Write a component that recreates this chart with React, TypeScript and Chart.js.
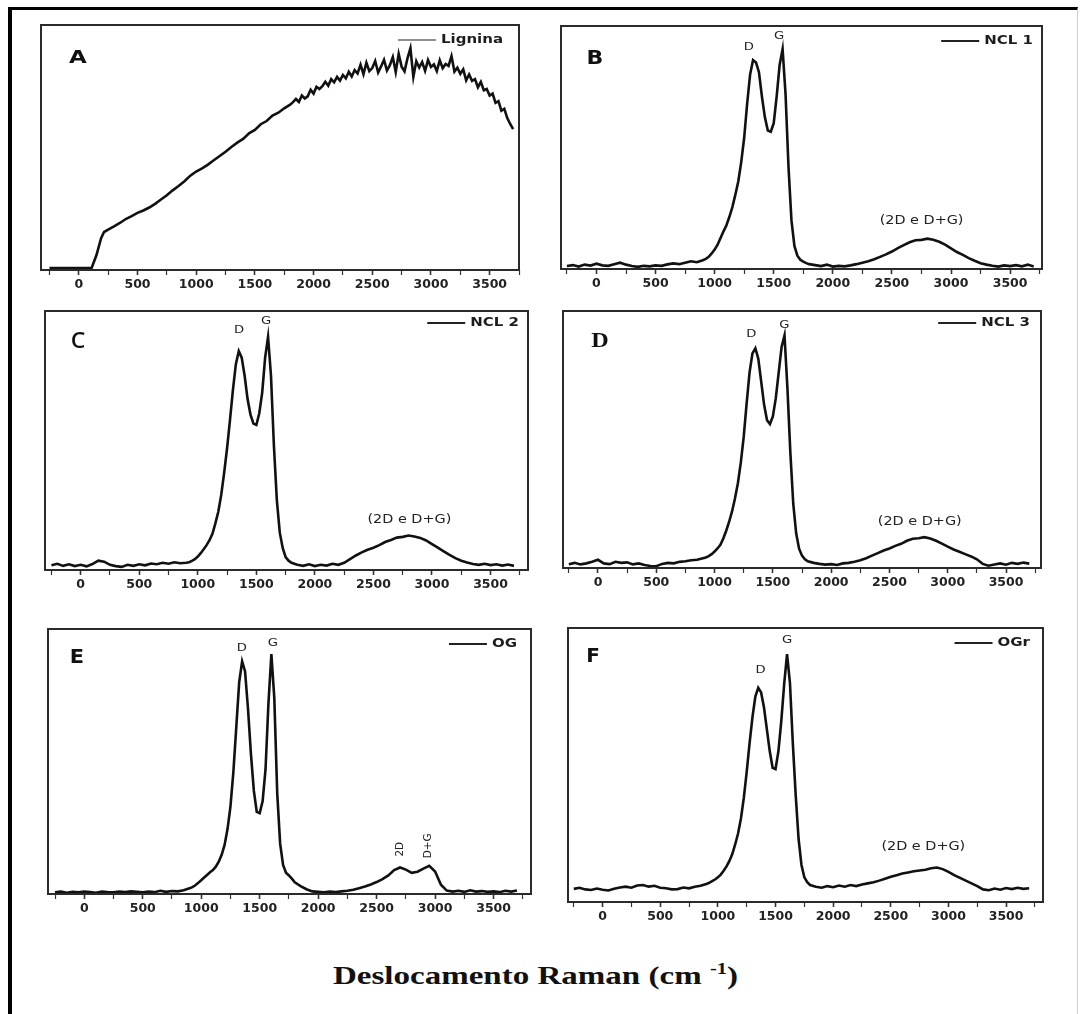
import React, { useEffect, useRef } from 'react';
import { Chart, registerables } from 'chart.js';

Chart.register(...registerables);

// ---------- DATA ----------
// Raman shift grid (cm-1) shared by panels B-F
const gridX = [
  -250, -200, -150, -100, -50, 0, 50, 100, 150, 200, 250, 300, 350, 400, 450, 500, 550, 600, 650, 700, 750, 800, 850, 900,
  925, 950, 975, 1000, 1025, 1050, 1075, 1100, 1125, 1150, 1175, 1200, 1225, 1250, 1275, 1300, 1325, 1350, 1375, 1400, 1425, 1450, 1475, 1500, 1525, 1550, 1575, 1600, 1625, 1650, 1675, 1700, 1725, 1750, 1775, 1800,
  1850, 1900, 1950, 2000, 2050, 2100, 2150, 2200, 2250, 2300, 2350, 2400, 2450, 2500, 2550, 2600, 2650, 2700, 2750, 2800, 2850, 2900, 2950, 3000, 3050, 3100, 3150, 3200, 3250, 3300, 3350, 3400, 3450, 3500, 3550, 3600, 3650, 3700,
];

// Panel A – Lignina (own grid)
const ligninaX = [
  -250, -150, -50, 50, 110, 150, 190, 215, 250, 300, 350, 400, 450, 500, 550, 600, 650, 700, 750, 800, 850, 900, 950, 1000,
  1050, 1100, 1150, 1200, 1250, 1300, 1350, 1400, 1450, 1500, 1550, 1600, 1650, 1700, 1750, 1800,
  1825, 1850, 1875, 1900, 1925, 1950, 1975, 2000,
  2025, 2050, 2075, 2100, 2125, 2150, 2175, 2200,
  2225, 2250, 2275, 2300, 2325, 2350, 2375, 2400,
  2425, 2450, 2475, 2500, 2525, 2550, 2575, 2600,
  2625, 2650, 2675, 2700, 2725, 2750, 2775, 2800,
  2825, 2850, 2875, 2900, 2925, 2950, 2975, 3000,
  3025, 3050, 3075, 3100, 3125, 3150, 3175, 3200,
  3225, 3250, 3275, 3300, 3325, 3350, 3375, 3400,
  3425, 3450, 3475, 3500, 3525, 3550, 3575, 3600,
  3625, 3650, 3675, 3700,
];
const ligninaY = [
  0.8, 0.8, 0.8, 0.8, 0.9, 6, 13, 15.5, 16.5, 17.8, 19.2, 20.8, 22.0, 23.3, 24.3, 25.5, 27.0, 28.8, 30.5, 32.5, 34.3, 36.2, 38.5, 40.2,
  41.5, 43.0, 44.8, 46.5, 48.3, 50.2, 52.0, 53.5, 55.8, 57.2, 59.5, 60.8, 63.0, 64.2, 66.0, 67.5,
  68.5, 69.8, 68.6, 71.2, 70.0, 70.9, 73.6, 72.0,
  74.8, 73.9, 75.0, 76.8, 75.2, 77.9, 76.6, 78.8,
  77.3, 79.6, 78.2, 80.9, 79.0, 81.6, 80.2, 83.8,
  79.9, 84.6, 81.2, 82.4, 85.3, 80.6, 83.1, 85.8,
  81.4, 83.6, 86.9, 80.8, 88.2, 83.0, 81.1, 86.4,
  90.5, 78.8, 85.2, 82.6, 84.9, 81.3, 85.7, 82.9,
  83.9, 81.2, 85.6, 82.4, 84.1, 83.3, 87.3, 81.0,
  82.6, 80.1, 81.9, 77.4, 79.8, 77.2, 77.9, 74.6,
  76.8, 73.4, 73.9, 71.2, 72.0, 68.2, 68.9, 65.0,
  65.8, 62.0, 59.6, 57.5,
];

// Panel B – NCL 1
const ncl1Y = [
  1.2, 1.6, 1.0, 1.8, 1.4, 2.2, 1.5, 1.3, 2.0, 2.6, 1.8, 1.2, 0.9, 1.3, 1.1, 1.5, 1.3, 1.9, 2.3, 2.0, 2.6, 3.2, 2.8, 3.6,
  4.2, 5.0, 6.4, 8.0, 10.0, 12.8, 15.5, 18.0, 21.5, 25.5, 30.5, 36.0, 44.0, 54.0, 68.0, 80.0, 86.0, 85.0, 81.0, 71.0, 62.5, 57.0, 56.5, 60.0, 71.0, 84.0, 90.5, 72.0, 42.0, 20.0, 9.5, 5.5, 3.8, 3.0, 2.4, 2.0,
  1.6, 1.2, 1.8, 1.0, 1.3, 1.1, 1.5, 2.0, 2.6, 3.2, 4.0, 5.0, 6.0, 7.2, 8.6, 9.8, 11.0, 11.8, 12.0, 12.5, 12.0, 11.2, 10.0, 8.5, 7.0, 5.8, 4.5, 3.4, 2.4, 1.8, 1.3, 1.0, 1.5, 1.2, 1.6, 1.1, 1.8, 1.0,
];

// Panel C – NCL 2
const ncl2Y = [
  1.8, 2.4, 1.6, 2.2, 1.5, 2.0, 1.4, 2.3, 3.6, 3.2, 2.0, 1.5, 1.2, 2.0, 1.6, 2.2, 1.8, 2.5, 2.2, 2.8, 2.4, 3.0, 2.6, 2.8,
  3.0, 3.5, 4.2, 5.2, 6.5, 8.0, 9.6, 11.5, 14.0, 18.0, 22.5, 29.0, 37.5, 47.0, 58.0, 69.5, 79.5, 84.5, 82.0, 75.0, 66.0, 60.0, 56.5, 56.0, 60.5, 68.5, 82.0, 90.0, 75.0, 48.0, 27.0, 14.5, 8.5, 5.0, 3.6, 2.8,
  2.0, 1.6, 2.2, 1.5, 2.0, 1.7, 2.4, 2.0, 2.8, 4.2, 5.6, 6.8, 7.8, 8.6, 9.6, 10.8, 11.6, 12.5, 12.8, 13.3, 12.9, 12.4, 11.4, 10.0, 8.6, 7.2, 5.8, 4.6, 3.6, 2.9, 2.3, 2.0, 2.4, 1.9, 2.2, 1.7, 2.1, 1.6,
];

// Panel D – NCL 3
const ncl3Y = [
  1.5, 2.0, 1.4, 1.8, 2.4, 3.2, 1.8, 1.5, 2.4, 2.0, 2.2, 1.4, 1.8, 1.2, 0.8, 0.7, 1.6, 2.0, 1.8, 2.4, 2.6, 3.0, 3.2, 3.8,
  4.1, 4.6, 5.4, 6.4, 7.6, 9.0, 11.5, 14.5, 18.0, 22.0, 27.0, 33.0, 41.0, 51.0, 64.0, 76.0, 83.5, 85.5, 81.5, 72.5, 63.5, 57.5, 56.0, 59.0, 66.0, 76.0, 86.0, 90.5, 70.0, 45.0, 25.0, 13.5, 7.5, 4.8, 3.4, 2.6,
  2.0, 1.6, 1.3, 1.5, 1.2, 1.8, 2.0, 2.4, 3.0, 3.8, 4.8, 5.8, 6.8, 7.6, 8.6, 9.4, 10.6, 11.4, 11.6, 12.0, 11.5, 10.6, 9.5, 8.3, 7.2, 6.3, 5.4, 4.5, 3.4, 1.6, 0.9, 1.4, 1.8, 1.3, 2.0, 1.6, 2.1, 1.7,
];

// Panel E – OG
const ogY = [
  0.6, 0.9, 0.5, 0.8, 0.6, 0.9, 0.7, 0.5, 0.9, 0.7, 0.6, 0.9, 0.7, 1.0, 0.8, 0.6, 0.9, 0.7, 1.2, 0.8, 1.1, 1.0, 1.4, 2.2,
  2.6, 3.3, 4.2, 5.2, 6.2, 7.2, 8.2, 9.0, 10.3, 12.2, 14.8, 18.5, 24.5, 33.0, 46.0, 63.0, 80.0, 87.8, 84.0, 70.0, 53.0, 39.0, 31.0, 30.5, 35.0, 47.0, 72.0, 90.5, 74.0, 38.0, 19.0, 11.0, 8.0, 7.0, 5.8, 4.4,
  3.0, 1.8, 1.0, 0.8, 0.6, 0.9, 0.7, 1.0, 1.2, 1.6, 2.2, 2.8, 3.6, 4.5, 5.6, 7.0, 9.0, 10.0, 9.2, 8.0, 8.4, 9.6, 10.6, 8.5, 3.5, 1.3, 0.9, 1.2, 0.8, 1.4, 0.9, 1.1, 0.8, 1.0, 0.7, 1.2, 0.9, 1.3,
];

// Panel F – OGr
const ogrY = [
  4.8, 5.2, 4.6, 4.4, 4.9, 4.5, 4.2, 4.8, 5.3, 5.6, 5.2, 6.0, 6.2, 5.6, 5.9, 5.2, 5.0, 4.6, 4.7, 5.3, 5.0, 5.6, 5.9, 6.6,
  7.0, 7.6, 8.2, 9.0, 10.0, 11.4, 13.0, 15.0, 17.5, 21.0, 25.0, 30.5, 38.0, 47.5, 58.0, 67.5, 75.0, 78.2, 76.5, 71.0, 63.0, 55.0, 49.0, 48.5, 55.0, 66.0, 79.5, 90.5, 80.0, 58.0, 39.0, 23.0, 13.5, 9.0, 7.2, 6.2,
  5.6, 5.2, 5.8, 5.4, 6.0, 5.6, 6.2, 5.8, 6.4, 6.8, 7.2, 7.8, 8.5, 9.2, 9.8, 10.4, 10.8, 11.2, 11.5, 11.8, 12.3, 12.6, 12.0, 11.0, 9.8, 8.8, 7.8, 6.8, 5.8, 4.6, 4.3, 4.9, 4.5, 5.1, 4.7, 5.2, 4.8, 5.0,
];

const seriesNames = ['Lignina', 'NCL 1', 'NCL 2', 'NCL 3', 'OG', 'OGr'];
const panelLetters = ['A', 'B', 'C', 'D', 'E', 'F'];
const majorTickStep = 500;
const minorTickStep = 250;
const axisTitle = 'Deslocamento Raman (cm';
const axisTitleSup = '-1';

// ---------- LAYOUT / STYLE ----------
const PAD = 14;
const AXIS_H = 30;
const TEXT_SX = 1.2;

type Note = { text: string; x: number; y: number; size: number; rotate?: boolean };
type PanelCfg = {
  box: { l: number; t: number; r: number; b: number };
  xMin: number;
  xMax: number;
  xs: number[];
  ys: number[];
  legend: string;
  legendRight: number;
  legendY: number;
  legendLineW: number;
  letter: { text: string; dx: number; dy: number; font: string; sx: number };
  notes: Note[];
};

const band = '(2D e D+G)';

const panels: PanelCfg[] = [
  {
    box: { l: 41, t: 25, r: 519, b: 270 }, xMin: -322, xMax: 3750, xs: ligninaX, ys: ligninaY,
    legend: seriesNames[0], legendRight: 16, legendY: 15, legendLineW: 1.2,
    letter: { text: panelLetters[0], dx: 37, dy: 34, font: 'bold 17px "DejaVu Sans"', sx: 1.35 },
    notes: [],
  },
  {
    box: { l: 561, t: 26, r: 1042, b: 269 }, xMin: -300, xMax: 3770, xs: gridX, ys: ncl1Y,
    legend: seriesNames[1], legendRight: 9, legendY: 15, legendLineW: 1.8,
    letter: { text: panelLetters[1], dx: 34, dy: 33, font: 'bold 20px "DejaVu Sans"', sx: 1.1 },
    notes: [
      { text: 'D', x: 1290, y: 91.5, size: 11 },
      { text: 'G', x: 1545, y: 95.9, size: 11 },
      { text: band, x: 2751, y: 19.6, size: 12 },
    ],
  },
  {
    box: { l: 45, t: 311, r: 528, b: 570 }, xMin: -305, xMax: 3820, xs: gridX, ys: ncl2Y,
    legend: seriesNames[2], legendRight: 9, legendY: 12, legendLineW: 1.8,
    letter: { text: panelLetters[2], dx: 33, dy: 31, font: '600 21px "Open Sans"', sx: 1.1 },
    notes: [
      { text: 'D', x: 1353, y: 92.5, size: 11 },
      { text: 'G', x: 1583, y: 96, size: 11 },
      { text: band, x: 2807, y: 19.3, size: 12 },
    ],
  },
  {
    box: { l: 563, t: 311, r: 1041, b: 568 }, xMin: -300, xMax: 3800, xs: gridX, ys: ncl3Y,
    legend: seriesNames[3], legendRight: 11, legendY: 12, legendLineW: 1.8,
    letter: { text: panelLetters[3], dx: 37, dy: 31, font: 'bold 21px "Liberation Serif"', sx: 1.15 },
    notes: [
      { text: 'D', x: 1315, y: 91, size: 11 },
      { text: 'G', x: 1599, y: 94.4, size: 11 },
      { text: band, x: 2760, y: 18.1, size: 12 },
    ],
  },
  {
    box: { l: 48, t: 629, r: 531, b: 894 }, xMin: -310, xMax: 3820, xs: gridX, ys: ogY,
    legend: seriesNames[4], legendRight: 14, legendY: 15, legendLineW: 1.8,
    letter: { text: panelLetters[4], dx: 29, dy: 29, font: 'bold 19px "DejaVu Sans"', sx: 1.1 },
    notes: [
      { text: 'D', x: 1347, y: 92.8, size: 11 },
      { text: 'G', x: 1613, y: 94.7, size: 11 },
      { text: '2D', x: 2704, y: 16.9, size: 10.5, rotate: true },
      { text: 'D+G', x: 2940, y: 18.2, size: 10.5, rotate: true },
    ],
  },
  {
    box: { l: 568, t: 628, r: 1043, b: 902 }, xMin: -300, xMax: 3820, xs: gridX, ys: ogrY,
    legend: seriesNames[5], legendRight: 13, legendY: 15, legendLineW: 1.8,
    letter: { text: panelLetters[5], dx: 25, dy: 29, font: 'bold 19px "DejaVu Sans"', sx: 1.05 },
    notes: [
      { text: 'D', x: 1370, y: 84.5, size: 11 },
      { text: 'G', x: 1600, y: 95.7, size: 11 },
      { text: band, x: 2782, y: 20.1, size: 12 },
    ],
  },
];

function drawStretched(ctx: CanvasRenderingContext2D, text: string, x: number, y: number, sx: number, align: CanvasTextAlign) {
  ctx.save();
  ctx.translate(x, y);
  ctx.scale(sx, 1);
  ctx.textAlign = align;
  ctx.textBaseline = 'middle';
  ctx.fillText(text, 0, 0);
  ctx.restore();
}

function Panel({ cfg }: { cfg: PanelCfg }) {
  const ref = useRef<HTMLCanvasElement>(null);
  const w = cfg.box.r - cfg.box.l + PAD * 2;
  const h = cfg.box.b - cfg.box.t + PAD + AXIS_H;

  useEffect(() => {
    const canvas = ref.current;
    if (!canvas) return;
    const decor = {
      id: 'decor',
      afterDraw(chart: any) {
        const { ctx, chartArea: a, scales } = chart;
        const xs = scales.x;
        const ys = scales.y;
        ctx.save();
        // frame box
        ctx.strokeStyle = '#2b2b2b';
        ctx.lineWidth = 2;
        ctx.strokeRect(a.left, a.top, a.right - a.left, a.bottom - a.top);
        // legend
        ctx.fillStyle = '#1c1c1c';
        ctx.font = 'bold 12.5px "DejaVu Sans"';
        const tw = ctx.measureText(cfg.legend).width * TEXT_SX;
        const tx = a.right - cfg.legendRight - tw;
        const ly = a.top + cfg.legendY;
        drawStretched(ctx, cfg.legend, tx, ly, TEXT_SX, 'left');
        ctx.beginPath();
        ctx.moveTo(tx - 5 - 38, ly);
        ctx.lineTo(tx - 5, ly);
        ctx.lineWidth = cfg.legendLineW;
        ctx.strokeStyle = '#222';
        ctx.stroke();
        // panel letter
        ctx.fillStyle = '#111';
        ctx.font = cfg.letter.font;
        drawStretched(ctx, cfg.letter.text, a.left + cfg.letter.dx, a.top + cfg.letter.dy, cfg.letter.sx, 'center');
        // peak annotations
        ctx.fillStyle = '#222';
        for (const n of cfg.notes) {
          ctx.font = `${n.size}px "DejaVu Sans"`;
          const px = xs.getPixelForValue(n.x);
          const py = ys.getPixelForValue(n.y);
          if (n.rotate) {
            ctx.save();
            ctx.translate(px, py);
            ctx.rotate(-Math.PI / 2);
            ctx.textAlign = 'center';
            ctx.textBaseline = 'middle';
            ctx.fillText(n.text, 0, 0);
            ctx.restore();
          } else {
            drawStretched(ctx, n.text, px, py, TEXT_SX, 'center');
          }
        }
        ctx.restore();
      },
    };

    const chart = new Chart(canvas, {
      type: 'line',
      data: {
        datasets: [
          {
            label: cfg.legend,
            data: cfg.xs.map((x, i) => ({ x, y: cfg.ys[i] })),
            borderColor: '#111',
            borderWidth: 2.6,
            pointRadius: 0,
            tension: 0,
            fill: false,
          },
        ],
      },
      options: {
        animation: false,
        responsive: false,
        events: [],
        layout: { padding: { left: PAD, right: PAD, top: PAD, bottom: 0 } },
        plugins: { legend: { display: false }, tooltip: { enabled: false } },
        scales: {
          x: {
            type: 'linear',
            min: cfg.xMin,
            max: cfg.xMax,
            afterFit: (s: any) => {
              s.height = AXIS_H;
            },
            border: { display: false },
            grid: {
              drawOnChartArea: false,
              drawTicks: true,
              tickLength: 5,
              tickColor: '#333',
              tickWidth: (c: any) => (c.tick && c.tick.value % majorTickStep === 0 ? 1.6 : 1.2),
            },
            ticks: {
              stepSize: minorTickStep,
              includeBounds: false,
              autoSkip: false,
              maxRotation: 0,
              padding: 2,
              color: '#222',
              font: { family: '"DejaVu Sans"', weight: 'bold', size: 12.5 },
              callback: (v: any) => (Number(v) % majorTickStep === 0 ? String(v) : ''),
            },
          },
          y: { type: 'linear', min: 0, max: 100, display: false },
        },
      } as any,
      plugins: [decor],
    });
    return () => chart.destroy();
  }, []);

  return (
    <canvas
      ref={ref}
      width={w}
      height={h}
      style={{ position: 'absolute', left: cfg.box.l - PAD, top: cfg.box.t - PAD, width: w, height: h }}
    />
  );
}

export default function App() {
  return (
    <div style={{ position: 'absolute', left: 0, top: 0, width: 1081, height: 1014, overflow: 'hidden', background: '#fff' }}>
      <div
        style={{
          position: 'absolute',
          left: 8,
          top: 7,
          width: 1070,
          height: 1014,
          borderLeft: '4px solid #000',
          borderTop: '3px solid #000',
          borderRight: '1px solid #cfcfcf',
          boxSizing: 'border-box',
        }}
      />
      {panels.map((p, i) => (
        <Panel key={i} cfg={p} />
      ))}
      <div
        style={{
          position: 'absolute',
          left: 333,
          top: 963,
          font: 'bold 26px "Liberation Serif"',
          lineHeight: 1,
          color: '#111',
          whiteSpace: 'nowrap',
          transform: 'scaleX(1.27)',
          transformOrigin: 'left top',
        }}
      >
        {axisTitle} <sup style={{ fontSize: '0.62em', verticalAlign: 'super', lineHeight: 0 }}>{axisTitleSup}</sup>)
      </div>
    </div>
  );
}
